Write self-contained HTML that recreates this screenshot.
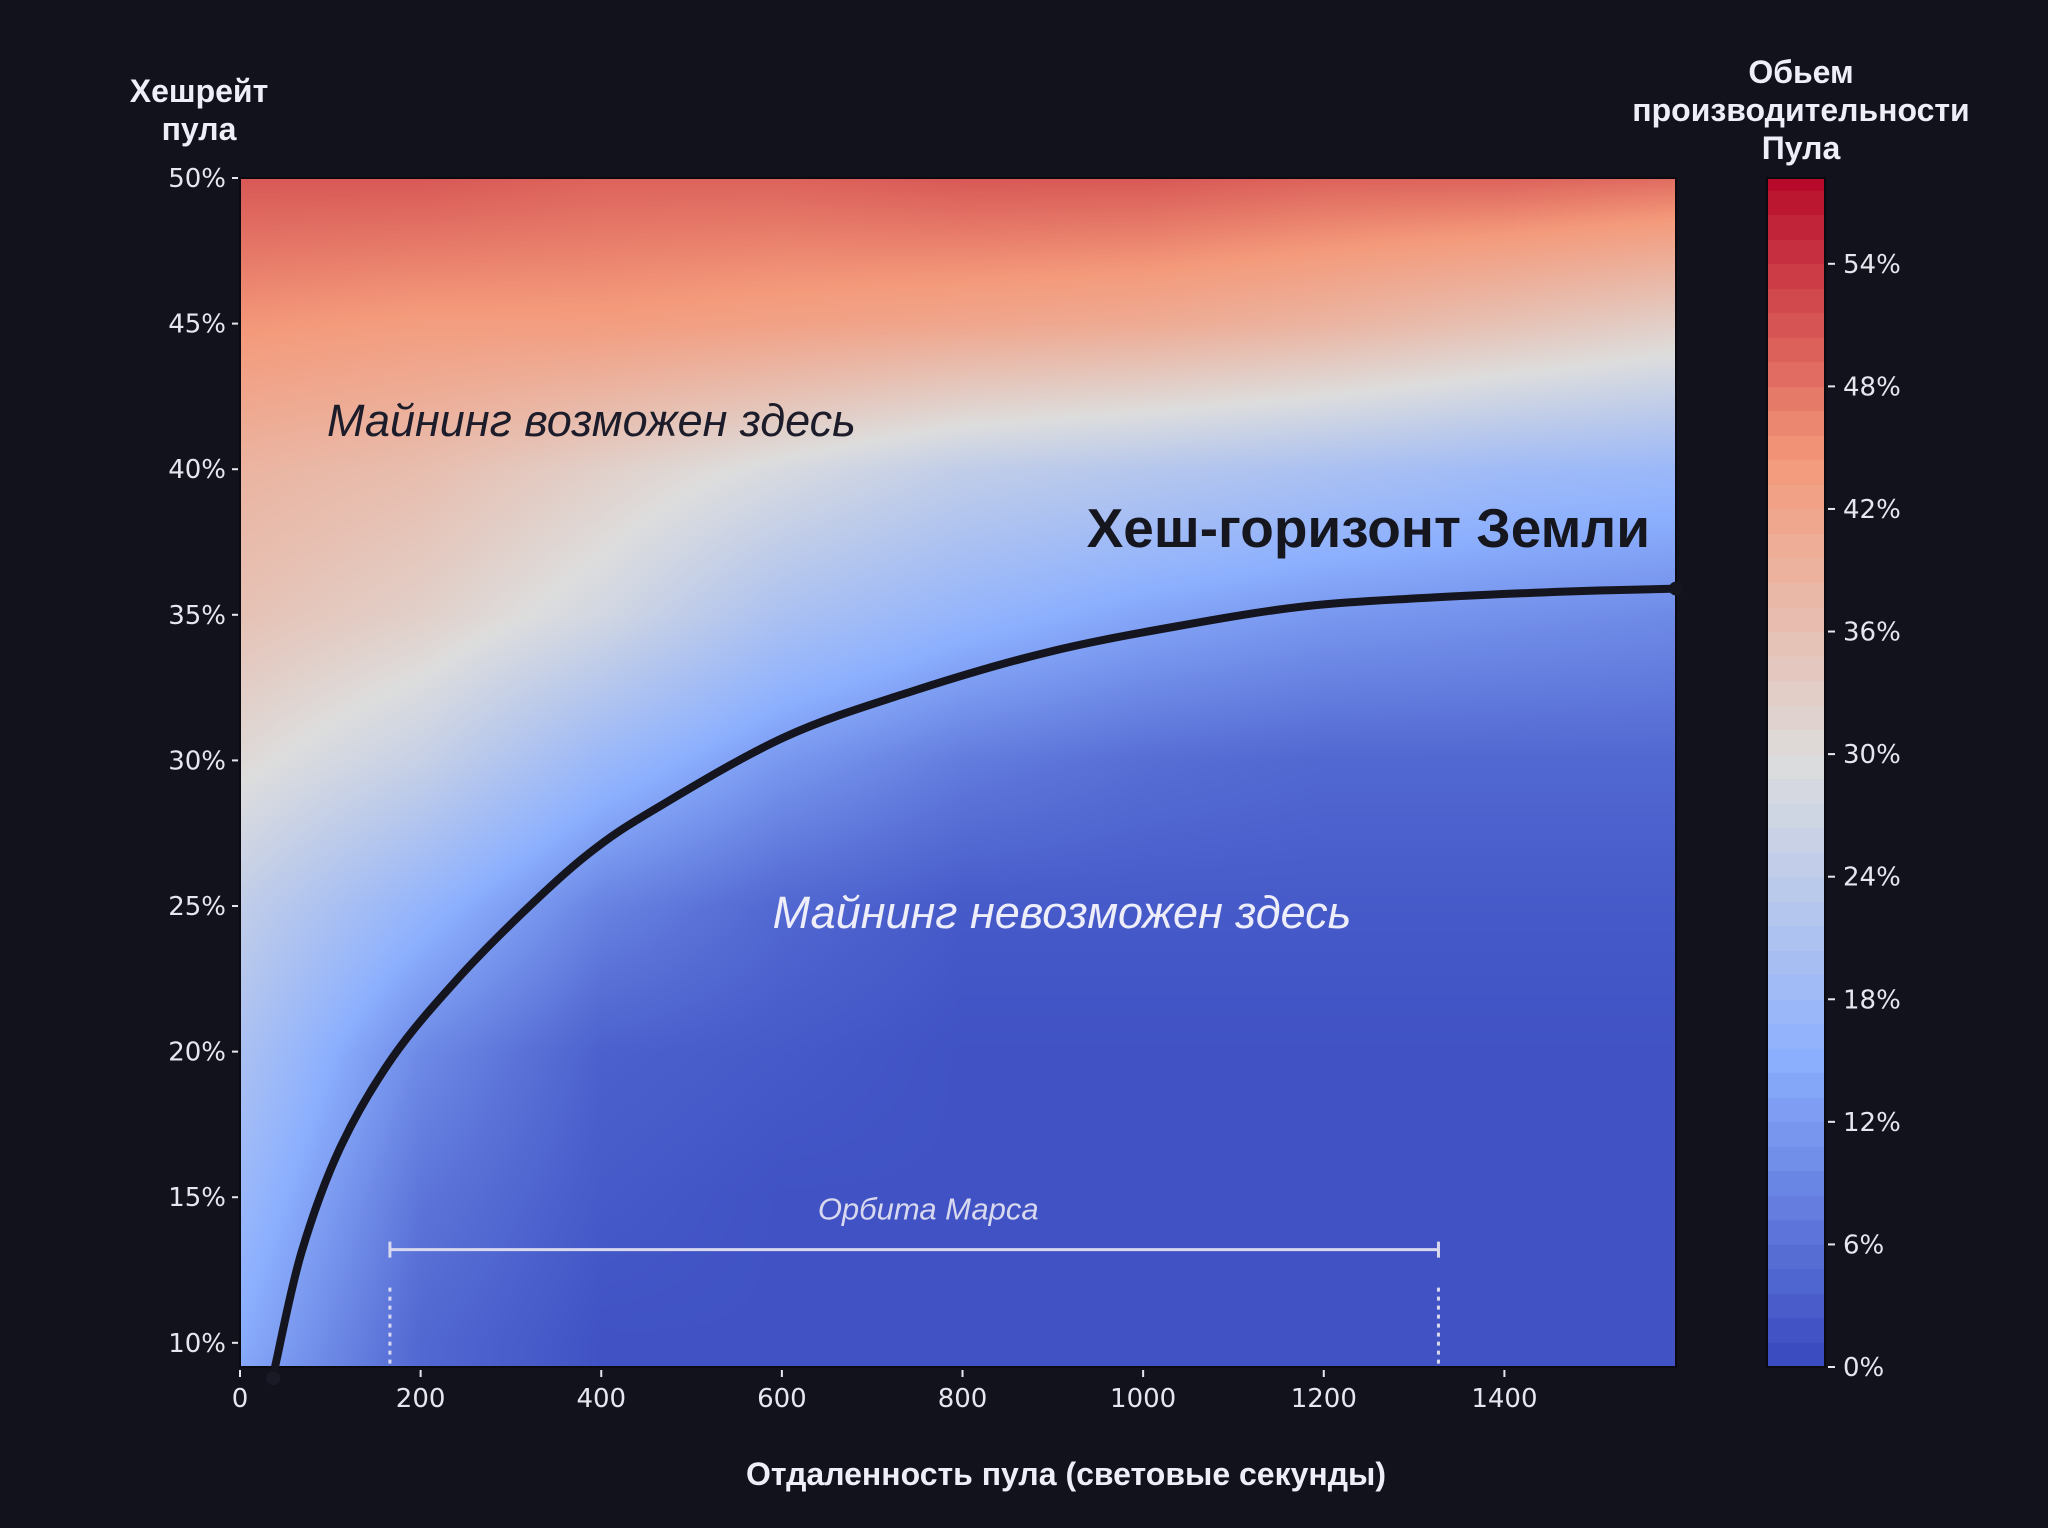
<!DOCTYPE html>
<html><head><meta charset="utf-8"><style>
html,body{margin:0;padding:0;background:#12121c;}
#wrap{position:relative;width:2048px;height:1528px;overflow:hidden;font-family:"Liberation Sans","DejaVu Sans",sans-serif;}
canvas,svg{position:absolute;left:0;top:0;}
</style></head><body>
<div id="wrap">
<canvas id="heat" width="2048" height="1528"></canvas>
<svg id="svg" width="2048" height="1528"></svg>
</div>
<script>
// ---- data ----
const gridX = [0,200,400,600,800,1000,1200,1400,1600];
const gridY = [50,45,40,35,30,25,20,15,10,9];
const row50 = [50,50,49,49,50,50,49,49,48];
const row45 = [44,43,43,42,41,40,38,35,32];
const row40 = [38,36,32,28,24,22,20,18,17];
const row35 = [35,32,27,20,16,13,11,10,9];
const row30 = [30,25,17,11,7,5,4,4,4];
const row25 = [24,16,8,4,2,2,2,2,2];
const row20 = [20,9,3,2,1,1,1,1,1];
const row15 = [17,6,2,1,1,1,1,1,1];
const row10 = [14,4,1,1,1,1,1,1,1];
const row09 = [13,4,1,1,1,1,1,1,1];
const curveX = [39,68,111,169,241,314,386,458,603,747,892,1036,1181,1325,1470,1590];
const curveY = [9.2,13.1,16.7,19.8,22.5,24.8,26.8,28.3,30.8,32.4,33.7,34.6,35.3,35.6,35.8,35.9];
const xTicks = [0,200,400,600,800,1000,1200,1400];
const yTicks = [10,15,20,25,30,35,40,45,50];
const cbTicks = [0,6,12,18,24,30,36,42,48,54];
const marsRange = [166,1327];
const marsLineY = 13.2;

const rows=[row50,row45,row40,row35,row30,row25,row20,row15,row10,row09];
const X0=240,X1=1676,Y0=178,Y1=1367,XMAX=1590,YMIN=9.17,YMAX=50;
const sx=v=>X0+v/XMAX*(X1-X0);
const sy=v=>Y0+(YMAX-v)/(YMAX-YMIN)*(Y1-Y0);
const CB0=1767,CB1=1825,CBMAX=58.2;
const cy=v=>Y1-v/CBMAX*(Y1-Y0);
const stops=[[0,[59,76,192]],[0.25,[141,176,254]],[0.5,[221,221,221]],[0.75,[244,154,123]],[1,[180,4,38]]];
function cmap(t){t=Math.max(0,Math.min(1,t));for(let i=1;i<stops.length;i++){if(t<=stops[i][0]){const a=stops[i-1],b=stops[i];const f=(t-a[0])/(b[0]-a[0]);return a[1].map((c,k)=>Math.round(c+(b[1][k]-c)*f));}}return stops[4][1];}
function field(x,y){
  let j=0;while(j<gridX.length-2&&x>gridX[j+1])j++;
  let i=0;while(i<gridY.length-2&&y<gridY[i+1])i++;
  const fx=(x-gridX[j])/(gridX[j+1]-gridX[j]),fy=(gridY[i]-y)/(gridY[i]-gridY[i+1]);
  const a=rows[i][j],b=rows[i][j+1],c=rows[i+1][j],d=rows[i+1][j+1];
  return (a*(1-fx)+b*fx)*(1-fy)+(c*(1-fx)+d*fx)*fy;
}
const ctx=document.getElementById('heat').getContext('2d');
ctx.fillStyle='#12121c';ctx.fillRect(0,0,2048,1528);
const img=ctx.createImageData(X1-X0,Y1-Y0);
for(let py=0;py<Y1-Y0;py++){const yv=YMAX-py/(Y1-Y0)*(YMAX-YMIN);
 for(let px=0;px<X1-X0;px++){const xv=px/(X1-X0)*XMAX;
  const c=cmap(field(xv,yv)/CBMAX);const k=(py*(X1-X0)+px)*4;
  img.data[k]=c[0];img.data[k+1]=c[1];img.data[k+2]=c[2];img.data[k+3]=255;}}
ctx.putImageData(img,X0,Y0);
for(let py=Y0;py<Y1;py++){const v=(Y1-py)/(Y1-Y0)*CBMAX;const c=cmap(Math.floor(v/1.2)*1.2/CBMAX);ctx.fillStyle=`rgb(${c})`;ctx.fillRect(CB0,py,CB1-CB0,1);}

const svg=document.getElementById('svg');const NS='http://www.w3.org/2000/svg';
function el(tag,attrs,text){const e=document.createElementNS(NS,tag);for(const k in attrs)e.setAttribute(k,attrs[k]);if(text!==undefined)e.textContent=text;svg.appendChild(e);return e;}
let e;
e=el('rect',{x:X0,y:Y0,width:X1-X0,height:Y1-Y0,fill:'none',stroke:'#0a0a10','stroke-width':2});


e=el('rect',{x:CB0,y:Y0,width:CB1-CB0,height:Y1-Y0,fill:'none',stroke:'#0a0a10','stroke-width':2});


const tc='#e6e6ee';
yTicks.forEach(v=>{
 e=el('line',{x1:X0-8,x2:X0-2,y1:sy(v),y2:sy(v),stroke:tc,'stroke-width':2});
 
 
 e=el('text',{x:X0-14,y:sy(v)+9,'text-anchor':'end','font-size':26,fill:tc,'font-family':'DejaVu Sans, sans-serif'},v+'%');
 
 
});
xTicks.forEach(v=>{
 e=el('line',{x1:sx(v),x2:sx(v),y1:Y1+3,y2:Y1+10,stroke:tc,'stroke-width':2});
 
 
 e=el('text',{x:sx(v),y:Y1+40,'text-anchor':'middle','font-size':26,fill:tc,'font-family':'DejaVu Sans, sans-serif'},String(v));
 
 
});
cbTicks.forEach(v=>{
 e=el('line',{x1:CB1+3,x2:CB1+10,y1:cy(v),y2:cy(v),stroke:tc,'stroke-width':2});
 
 
 e=el('text',{x:CB1+18,y:cy(v)+9,'font-size':26,fill:tc,'font-family':'DejaVu Sans, sans-serif'},v+'%');
 
 
});
// smooth curve (catmull-rom)
const P=curveX.map((x,i)=>[sx(x),sy(curveY[i])]);
let d='M'+P[0][0].toFixed(1)+','+P[0][1].toFixed(1);
for(let i=0;i<P.length-1;i++){const p0=P[Math.max(0,i-1)],p1=P[i],p2=P[i+1],p3=P[Math.min(P.length-1,i+2)];
 const c1=[p1[0]+(p2[0]-p0[0])/6,p1[1]+(p2[1]-p0[1])/6],c2=[p2[0]-(p3[0]-p1[0])/6,p2[1]-(p3[1]-p1[1])/6];
 d+=' C'+c1.map(v=>v.toFixed(1)).join(',')+' '+c2.map(v=>v.toFixed(1)).join(',')+' '+p2.map(v=>v.toFixed(1)).join(',');}
e=el('path',{d:d,fill:'none',stroke:'#15151f','stroke-width':8,'stroke-linecap':'round','stroke-linejoin':'round'});


e=el('circle',{cx:sx(curveX[curveX.length-1]),cy:sy(curveY[curveY.length-1]),r:7,fill:'#15151f'});


e=el('circle',{cx:sx(curveX[0])-2,cy:sy(curveY[0])+12,r:7,fill:'#1a1a26'});


const mc='#d8d8ee';
e=el('line',{x1:sx(marsRange[0]),x2:sx(marsRange[1]),y1:sy(marsLineY),y2:sy(marsLineY),stroke:mc,'stroke-width':3});


marsRange.forEach(v=>{
 e=el('line',{x1:sx(v),x2:sx(v),y1:sy(marsLineY)-8,y2:sy(marsLineY)+8,stroke:mc,'stroke-width':3});
 
 
 e=el('line',{x1:sx(v),x2:sx(v),y1:sy(marsLineY)+38,y2:Y1-2,stroke:mc,'stroke-width':3,'stroke-dasharray':'4,5'});
 
 
});
e=el('text',{x:(sx(marsRange[0])+sx(marsRange[1]))/2+14,y:sy(marsLineY)-30,'text-anchor':'middle','font-size':31,'font-style':'italic',fill:'#d8d8ee'},'Орбита Марса');


e=el('text',{x:327,y:436,'font-size':45,'font-style':'italic',fill:'#1c1c2a'},'Майнинг возможен здесь');


e=el('text',{x:1650,y:547,'text-anchor':'end','font-size':55,'font-weight':'bold',fill:'#16161f'},'Хеш-горизонт Земли');


e=el('text',{x:1062,y:928,'text-anchor':'middle','font-size':45,'font-style':'italic',fill:'#eeeefa'},'Майнинг невозможен здесь');


const tt='#eeeef8';
[['Хешрейт',102],['пула',140]].forEach(t=>{
 e=el('text',{x:199,y:t[1],'text-anchor':'middle','font-size':32,'font-weight':'bold',fill:tt},t[0]);
 
 
});
[['Обьем',83],['производительности',121],['Пула',159]].forEach(t=>{
 e=el('text',{x:1801,y:t[1],'text-anchor':'middle','font-size':32,'font-weight':'bold',fill:tt},t[0]);
 
 
});
e=el('text',{x:1066,y:1485,'text-anchor':'middle','font-size':32,'font-weight':'bold',fill:tt},'Отдаленность пула (световые секунды)');


</script>
</body></html>
